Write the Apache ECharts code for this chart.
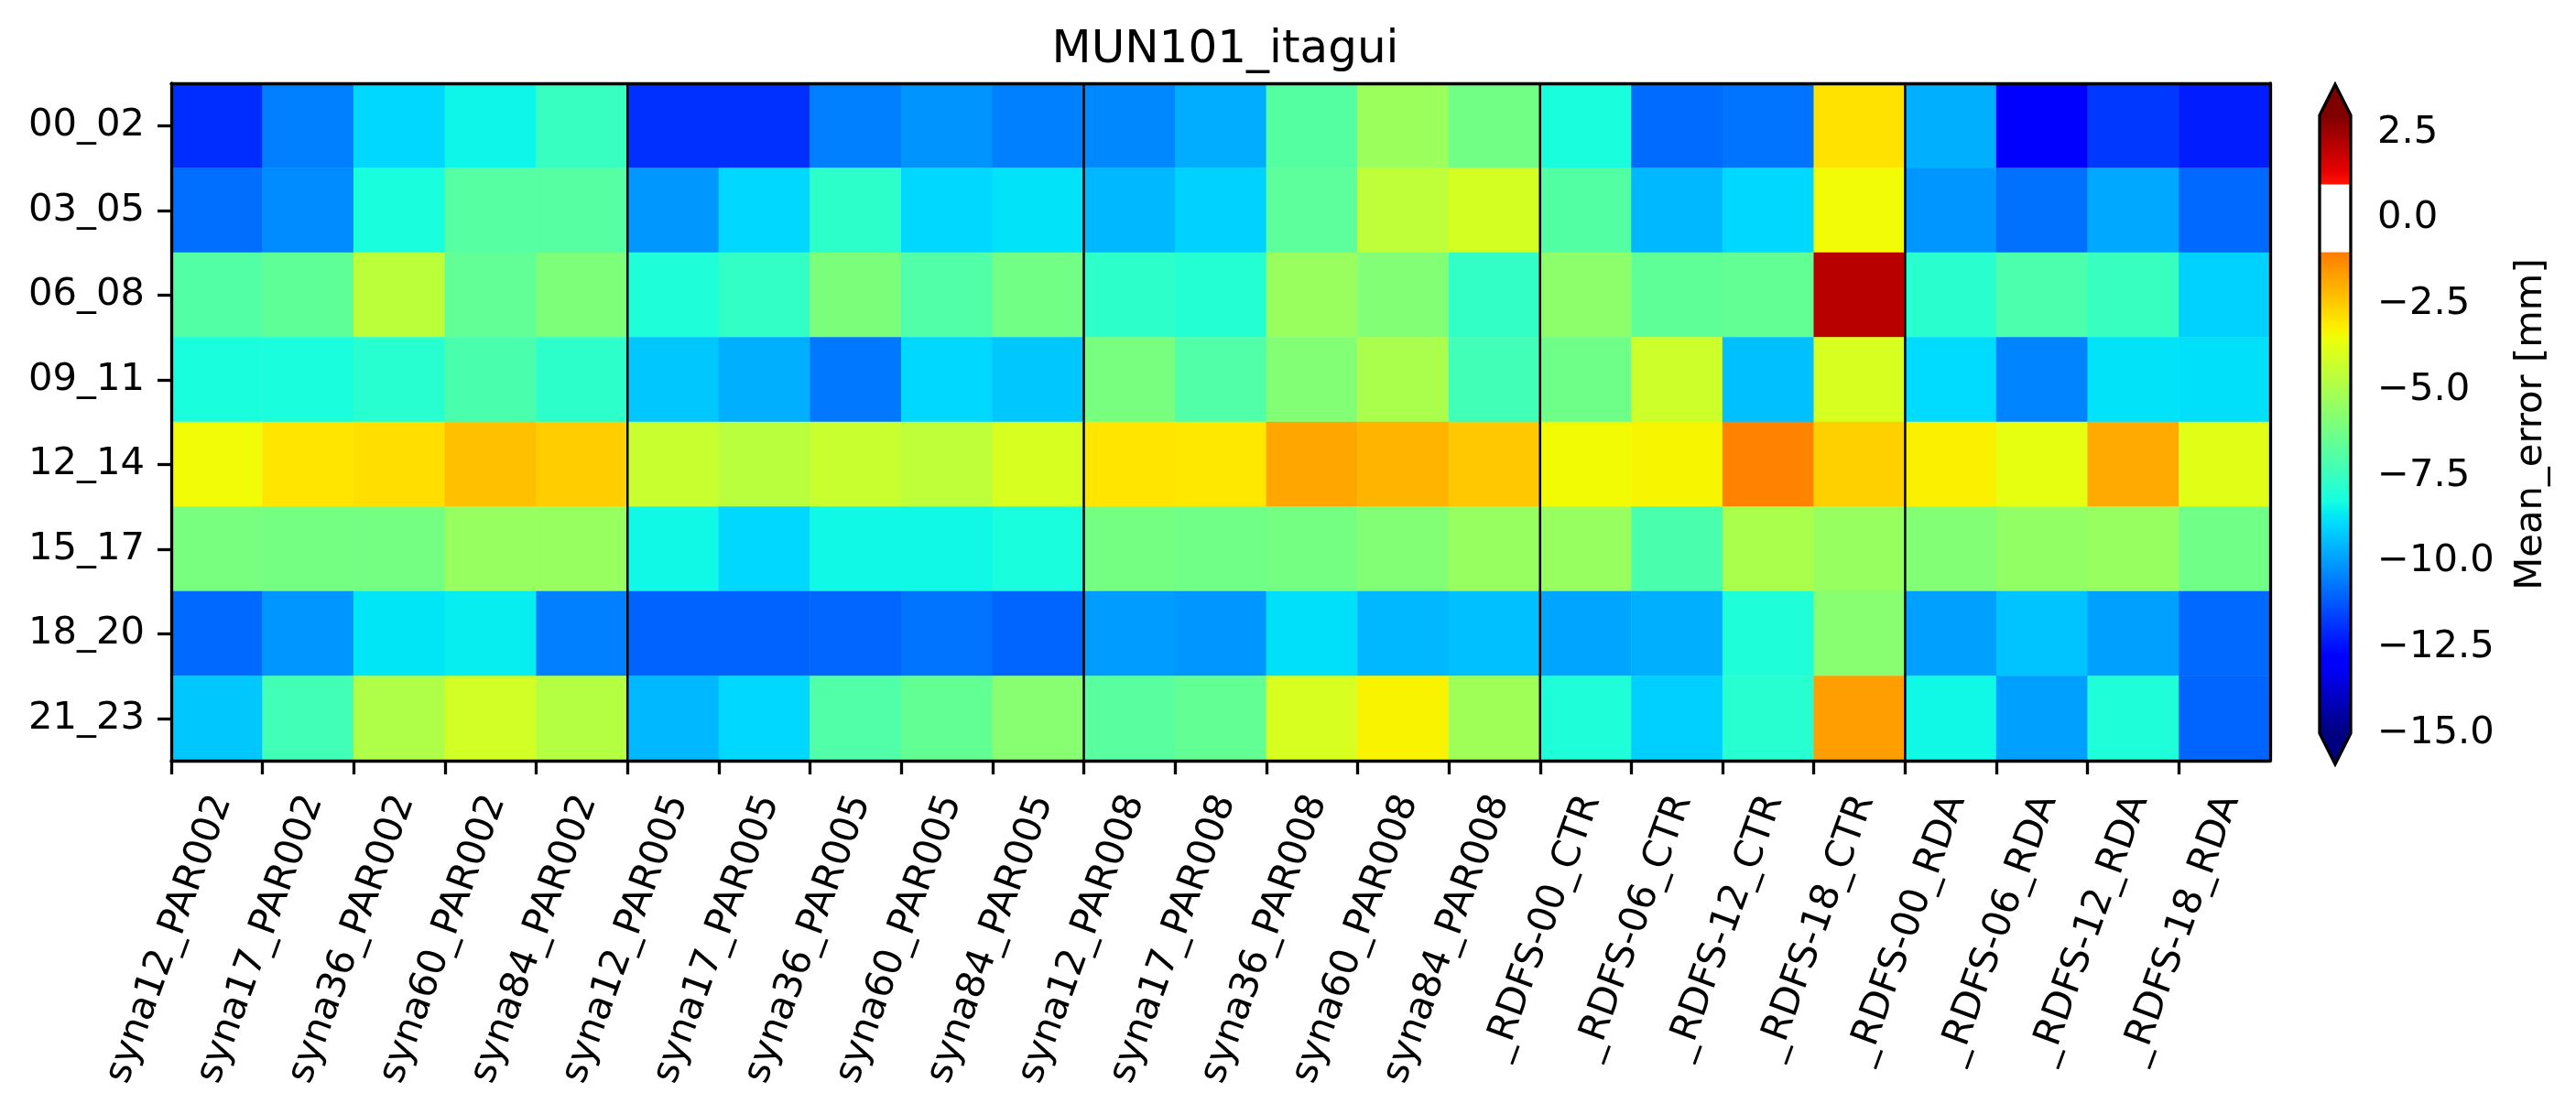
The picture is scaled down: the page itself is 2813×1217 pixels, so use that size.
<!DOCTYPE html>
<html><head><meta charset="utf-8">
<script src="https://cdn.jsdelivr.net/npm/echarts@6/dist/echarts.min.js"></script>
<style>html,body{margin:0;padding:0;background:#fff}#c{width:2813px;height:1217px}</style>
</head><body><div id="c"></div>
<script>
const chartTitle = 'MUN101_itagui';
const colorbarLabel = 'Mean_error [mm]';
const columns = ['syna12_PAR002','syna17_PAR002','syna36_PAR002','syna60_PAR002','syna84_PAR002',
  'syna12_PAR005','syna17_PAR005','syna36_PAR005','syna60_PAR005','syna84_PAR005',
  'syna12_PAR008','syna17_PAR008','syna36_PAR008','syna60_PAR008','syna84_PAR008',
  '_RDFS-00_CTR','_RDFS-06_CTR','_RDFS-12_CTR','_RDFS-18_CTR',
  '_RDFS-00_RDA','_RDFS-06_RDA','_RDFS-12_RDA','_RDFS-18_RDA'];
const rows = ['00_02','03_05','06_08','09_11','12_14','15_17','18_20','21_23'];

const r00_02 = [-11.96,-10.49,-8.94,-8.41,-7.52,-11.9,-11.9,-10.5,-10.14,-10.5,-10.35,-9.7,-6.86,-5.31,-6.23,-8.16,-10.86,-10.72,-2.92,-9.64,-12.9,-11.76,-12.26];
const r03_05 = [-10.81,-10.28,-8.16,-6.84,-6.84,-10.07,-8.94,-7.72,-8.94,-8.75,-9.5,-9.04,-6.69,-4.54,-4.06,-6.88,-9.5,-8.94,-3.43,-10.1,-10.77,-9.78,-10.9];
const r06_08 = [-6.9,-6.62,-4.6,-6.57,-5.96,-8.04,-7.6,-6.0,-6.95,-6.2,-7.72,-7.93,-5.37,-5.85,-7.6,-5.64,-6.62,-6.55,2.1,-7.8,-7.06,-7.5,-9.04];
const r09_11 = [-8.16,-8.16,-7.86,-7.1,-7.72,-9.22,-9.64,-10.63,-8.94,-9.22,-6.07,-6.95,-5.85,-4.98,-7.28,-6.29,-4.22,-9.36,-4.0,-8.87,-10.42,-8.75,-8.8];
const r12_14 = [-3.43,-2.97,-2.85,-2.28,-2.53,-4.33,-4.64,-4.33,-4.54,-4.0,-2.97,-3.04,-1.77,-2.05,-2.43,-3.39,-3.29,-1.1,-2.58,-3.2,-3.67,-1.86,-3.78];
const r15_17 = [-6.07,-6.16,-6.16,-5.4,-5.4,-8.36,-8.94,-8.36,-8.36,-8.16,-6.16,-6.26,-6.16,-5.85,-5.4,-5.4,-7.1,-4.98,-5.4,-5.85,-5.5,-5.4,-6.26];
const r18_20 = [-10.9,-10.1,-8.7,-8.55,-10.5,-11.02,-11.02,-10.95,-10.72,-10.98,-10.0,-10.1,-8.8,-9.5,-9.36,-9.84,-9.64,-8.04,-5.74,-9.93,-9.29,-9.93,-10.9];
const r21_23 = [-9.22,-7.28,-4.87,-4.1,-4.75,-9.5,-8.94,-6.95,-6.55,-5.74,-6.75,-6.55,-4.0,-3.25,-5.2,-8.04,-9.08,-7.86,-1.63,-8.36,-9.93,-8.04,-10.98];
const rowValues = [r00_02, r03_05, r06_08, r09_11, r12_14, r15_17, r18_20, r21_23];

const colorbarTicks = [-15, -12.5, -10, -7.5, -5, -2.5, 0, 2.5];
const groupBreaks = [5, 10, 15, 19];
const vmin = -15, vmax = 3, whiteLo = -1, whiteHi = 1;

// matplotlib 'jet' segment data, with a white band between whiteLo and whiteHi
const JET = {
  r: [[0,0],[0.35,0],[0.66,1],[0.89,1],[1,0.5]],
  g: [[0,0],[0.125,0],[0.375,1],[0.64,1],[0.91,0],[1,0]],
  b: [[0,0.5],[0.11,1],[0.34,1],[0.65,0],[1,0]]
};
function seg(pts, t) {
  for (let i = 1; i < pts.length; i++) {
    if (t <= pts[i][0]) {
      const [x0, y0] = pts[i-1], [x1, y1] = pts[i];
      return y0 + (y1 - y0) * (t - x0) / (x1 - x0);
    }
  }
  return pts[pts.length-1][1];
}
function jetRGB(t) {
  t = Math.max(0, Math.min(1, t));
  return 'rgb(' + Math.round(255*seg(JET.r,t)) + ',' + Math.round(255*seg(JET.g,t)) + ',' + Math.round(255*seg(JET.b,t)) + ')';
}
function cmap(v) {
  if (v > whiteLo && v < whiteHi) return '#ffffff';
  return jetRGB((v - vmin) / (vmax - vmin));
}
const step = 0.025;
const nSamp = Math.round((vmax - vmin) / step);
const cmapSamples = [];
const gradStops = [];
for (let i = 0; i <= nSamp; i++) {
  const v = vmin + i * step;
  const c = cmap(Math.round(v * 1000) / 1000);
  cmapSamples.push(c);
  gradStops.push({offset: (vmax - v) / (vmax - vmin), color: c});
}
gradStops.reverse();
const overColor = jetRGB(1), underColor = jetRGB(0);

const heatData = [];
rowValues.forEach((row, yi) => row.forEach((v, xi) => heatData.push([xi, yi, v])));

function fmtTick(v) { return (v < 0 ? '\u2212' : '') + Math.abs(v).toFixed(1); }

const FS = 41.7, FONT = 'DejaVu Sans', LW = 3.3;
const colIdx = columns.map((_, i) => i);
// rotated labels are centred on their tick (matplotlib ha='center'); the label axis is offset
// so that the right end of each rotated label lands where matplotlib puts it
const labelShift = 0.552;

const chart = echarts.init(document.getElementById('c'), null, {renderer: 'canvas'});
chart.setOption({
  animation: false,
  backgroundColor: '#fff',
  textStyle: {fontFamily: FONT, color: '#000'},
  title: {text: chartTitle, left: 1333, top: 25, textAlign: 'center',
    textStyle: {fontSize: 50, fontWeight: 'normal', color: '#000', fontFamily: FONT}},
  grid: [
    {left: 187, top: 91, width: 2292, height: 740},
    {left: 2533, top: 126, width: 34, height: 675}
  ],
  xAxis: [
    {type: 'category', gridIndex: 0, data: columns, show: false},
    {type: 'value', gridIndex: 0, min: 0, max: columns.length, position: 'bottom', z: 10,
      axisLine: {show: true, onZero: false, lineStyle: {color: '#000', width: LW}},
      axisTick: {show: true, customValues: colIdx, length: 15, lineStyle: {color: '#000', width: LW}},
      axisLabel: {show: false},
      splitLine: {show: false}},
    {type: 'value', gridIndex: 0, min: 0, max: columns.length, position: 'top', z: 10,
      axisLine: {show: true, onZero: false, lineStyle: {color: '#000', width: LW}},
      axisTick: {show: false}, axisLabel: {show: false}, splitLine: {show: false}},
    {type: 'value', gridIndex: 1, min: 0, max: 1, show: false},
    {type: 'value', gridIndex: 0, min: -labelShift, max: columns.length - labelShift, position: 'bottom', z: 10,
      axisLine: {show: false, onZero: false}, axisTick: {show: false}, splitLine: {show: false},
      axisLabel: {show: true, customValues: colIdx, formatter: v => columns[Math.round(v)] || '',
        rotate: 70, align: 'right', verticalAlign: 'middle', margin: 39,
        fontSize: FS, color: '#000', fontFamily: FONT}}
  ],
  yAxis: [
    {type: 'category', gridIndex: 0, data: rows, inverse: true, position: 'left', z: 10,
      axisLine: {show: true, onZero: false, lineStyle: {color: '#000', width: LW}},
      axisTick: {show: true, alignWithLabel: true, length: 15, lineStyle: {color: '#000', width: LW}},
      axisLabel: {margin: 29, fontSize: FS, color: '#000', fontFamily: FONT}},
    {type: 'value', gridIndex: 0, min: 0, max: rows.length, position: 'right', z: 10,
      axisLine: {show: true, onZero: false, lineStyle: {color: '#000', width: LW}},
      axisTick: {show: false}, axisLabel: {show: false}, splitLine: {show: false}},
    {type: 'value', gridIndex: 1, min: vmin, max: vmax, position: 'right',
      axisLine: {show: false},
      axisTick: {show: true, customValues: colorbarTicks, length: 15, lineStyle: {color: '#000', width: LW}},
      axisLabel: {show: true, customValues: colorbarTicks, formatter: fmtTick, margin: 29,
        fontSize: FS, color: '#000', fontFamily: FONT},
      splitLine: {show: false},
      name: colorbarLabel, nameLocation: 'middle', nameRotate: 90, nameGap: 176,
      nameTextStyle: {fontSize: FS, color: '#000', fontFamily: FONT}}
  ],
  visualMap: {type: 'continuous', min: vmin, max: vmax, show: false, seriesIndex: 0, dimension: 2,
    inRange: {color: cmapSamples}},
  series: [
    {type: 'heatmap', xAxisIndex: 0, yAxisIndex: 0, data: heatData,
      itemStyle: {borderWidth: 0}, emphasis: {disabled: true}},
    {type: 'custom', xAxisIndex: 1, yAxisIndex: 1, z: 5, silent: true,
      data: groupBreaks.map(b => [b]),
      renderItem: (params, api) => {
        const x = api.value(0);
        const p0 = api.coord([x, 0]), p1 = api.coord([x, rows.length]);
        return {type: 'line', shape: {x1: p0[0], y1: p0[1], x2: p1[0], y2: p1[1]},
          style: {stroke: '#000', lineWidth: 2.5}};
      }},
    {type: 'custom', xAxisIndex: 3, yAxisIndex: 2, z: 5, silent: true, clip: false,
      data: [[0, vmin, vmax]],
      renderItem: (params, api) => {
        const top = api.coord([0, vmax]), bot = api.coord([0, vmin]);
        const xl = top[0], xr = api.coord([1, vmax])[0];
        const h = bot[1] - top[1], tip = h * 0.05, xm = (xl + xr) / 2;
        return {type: 'group', children: [
          {type: 'rect', shape: {x: xl, y: top[1], width: xr - xl, height: h},
            style: {fill: new echarts.graphic.LinearGradient(0, 0, 0, 1, gradStops)}},
          {type: 'polygon', shape: {points: [[xl, top[1]], [xm, top[1] - tip], [xr, top[1]]]}, style: {fill: overColor}},
          {type: 'polygon', shape: {points: [[xl, bot[1]], [xm, bot[1] + tip], [xr, bot[1]]]}, style: {fill: underColor}},
          {type: 'polygon', shape: {points: [[xm, top[1] - tip], [xr, top[1]], [xr, bot[1]], [xm, bot[1] + tip], [xl, bot[1]], [xl, top[1]]]},
            style: {fill: 'none', stroke: '#000', lineWidth: LW}}
        ]};
      }}
  ]
});
</script></body></html>
